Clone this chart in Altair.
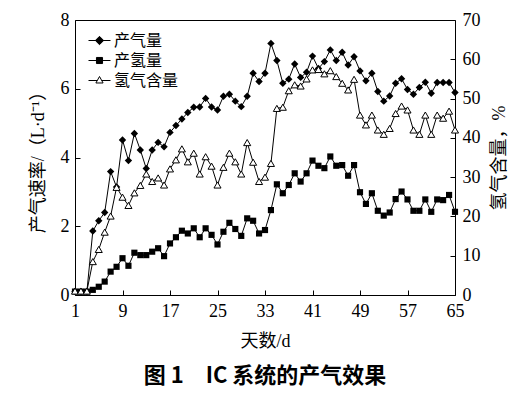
import altair as alt
import pandas as pd

# ---------------- data ----------------
days = list(range(1, 66))
gas_rate = [0.10, 0.10, 0.10, 1.86, 2.16, 2.40, 3.59, 3.14, 4.51, 3.91,
            4.70, 4.22, 3.68, 4.22, 4.44, 4.31, 4.73, 4.93, 5.12, 5.31,
            5.46, 5.47, 5.72, 5.47, 5.38, 5.78, 5.84, 5.64, 5.48, 5.78,
            6.45, 6.21, 6.45, 7.32, 6.82, 6.16, 6.28, 6.72, 6.33, 6.48,
            6.95, 6.59, 6.79, 7.13, 6.82, 7.06, 6.69, 6.93, 6.52, 6.23,
            6.45, 5.92, 5.64, 5.79, 6.16, 6.29, 5.98, 5.84, 6.04, 6.19,
            5.87, 6.18, 6.18, 6.18, 5.89]
h2_rate = [0.10, 0.10, 0.10, 0.15, 0.24, 0.39, 0.68, 0.82, 1.07, 0.85,
           1.23, 1.16, 1.16, 1.26, 1.36, 1.13, 1.50, 1.68, 1.87, 1.79,
           1.94, 1.68, 1.94, 1.75, 1.47, 1.84, 2.10, 1.92, 1.72, 2.23,
           2.16, 1.79, 1.89, 2.47, 3.22, 2.96, 3.20, 3.54, 3.30, 3.54,
           3.91, 3.76, 3.69, 4.03, 3.76, 3.78, 3.47, 3.78, 2.99, 2.65,
           2.96, 2.45, 2.31, 2.40, 2.79, 3.01, 2.78, 2.45, 2.45, 2.78,
           2.42, 2.78, 2.76, 2.91, 2.42]
h2_content = [1.0, 1.0, 1.0, 8.5, 11.6, 16.0, 20.1, 27.4, 24.9, 22.8,
              26.0, 27.9, 30.8, 28.9, 29.8, 28.0, 32.1, 34.4, 37.2, 33.9,
              36.1, 30.8, 35.2, 32.8, 28.0, 32.5, 36.1, 33.9, 30.8, 38.8,
              33.8, 28.9, 30.0, 33.5, 47.5, 47.8, 52.0, 53.5, 53.2, 55.0,
              57.3, 57.4, 56.3, 57.1, 55.6, 53.9, 52.2, 54.9, 45.8, 43.3,
              45.8, 42.0, 40.9, 42.4, 46.2, 48.1, 47.1, 42.0, 40.9, 45.8,
              40.9, 45.8, 45.0, 46.8, 42.0]
series_names = ["产气量", "产氢量", "氢气含量"]
x_ticks = [1, 9, 17, 25, 33, 41, 49, 57, 65]
left_ticks = [0, 2, 4, 6, 8]
right_ticks = [0, 10, 20, 30, 40, 50, 60, 70]

df_gas = pd.DataFrame({"day": days, "value": gas_rate, "series": series_names[0]})
df_h2 = pd.DataFrame({"day": days, "value": h2_rate, "series": series_names[1]})
df_left = pd.concat([df_gas, df_h2], ignore_index=True)
df_pct = pd.DataFrame({"day": days, "pct": h2_content, "series": series_names[2]})

# ---------------- styles ----------------
NUM_FONT = "Liberation Serif"
CJK_FONT = "Noto Sans CJK SC"
MIX_FONT = "Liberation Serif, Noto Sans CJK SC"

# legend symbols: a short line with the series marker on it
legend_paths = [
    "M-1.375,0L1.375,0M0,-0.52L0.52,0L0,0.52L-0.52,0Z",
    "M-1.375,0L1.375,0M-0.38,-0.38L0.38,-0.38L0.38,0.38L-0.38,0.38Z",
    "M-1.375,0L-0.28,0M0.28,0L1.375,0M0,-0.5L0.45,0.31L-0.45,0.31Z",
]

axis_common = dict(offset=-5, tickSize=5, domain=False, grid=False,
                   labelFont=NUM_FONT, labelFontSize=18, labelColor="black",
                   titleFont=MIX_FONT, titleFontSize=18, titleFontWeight="normal",
                   titleColor="black", tickColor="black", tickWidth=1,
                   labelOverlap=False)

x_enc = alt.X("day:Q", scale=alt.Scale(domain=[1, 65], nice=False, zero=False),
              axis=alt.Axis(values=x_ticks, title="天数/d", labelPadding=7,
                            titlePadding=12, labelFlush=False, **axis_common))
yl_enc = alt.Y("value:Q", scale=alt.Scale(domain=[0, 8], nice=False),
               axis=alt.Axis(values=left_ticks, title="产气速率/（L·d⁻¹）",
                             orient="left", labelPadding=6, titlePadding=13,
                             **axis_common))
yr_enc = alt.Y("pct:Q", scale=alt.Scale(domain=[0, 70], nice=False),
               axis=alt.Axis(values=right_ticks, title="氢气含量，%",
                             orient="right", labelPadding=7, titlePadding=10,
                             titleAngle=270, titleBaseline="top",
                             **axis_common))

legend = alt.Legend(title=None, orient="none", legendX=16, legendY=12, padding=0,
                    symbolSize=256, symbolStrokeWidth=1, symbolStrokeColor="black",
                    symbolOpacity=1, labelFont=MIX_FONT, labelFontSize=16,
                    labelColor="black", labelOffset=6, rowPadding=3)
shape_enc = alt.Shape("series:N", scale=alt.Scale(domain=series_names, range=legend_paths),
                      legend=legend)
fill_enc = alt.Fill("series:N", scale=alt.Scale(domain=series_names,
                                               range=["black", "black", "white"]),
                    legend=legend)
stroke_enc = alt.Stroke("series:N", scale=alt.Scale(domain=series_names,
                                                   range=["black", "black", "black"]),
                        legend=legend)

# ---------------- left axis layers ----------------
line_left = alt.Chart(df_left).mark_line(color="black", strokeWidth=1).encode(
    x=x_enc, y=yl_enc, detail="series:N")
pts_gas = alt.Chart(df_gas).mark_point(shape="diamond", filled=True, color="black",
                                       size=55, opacity=1).encode(x=x_enc, y=yl_enc)
pts_h2 = alt.Chart(df_h2).mark_point(shape="square", filled=True, color="black",
                                     size=38, opacity=1).encode(x=x_enc, y=yl_enc)
# legend carrier: no rows drawn, the legend comes from the explicit scale domain
legend_carrier = alt.Chart(df_left).transform_filter("datum.day < 0").mark_point(
    filled=True, strokeWidth=1, opacity=1).encode(
    x=x_enc, y=yl_enc, shape=shape_enc, fill=fill_enc, stroke=stroke_enc)
left = alt.layer(line_left, pts_gas, pts_h2, legend_carrier)

# ---------------- right axis layers ----------------
line_right = alt.Chart(df_pct).mark_line(color="black", strokeWidth=1).encode(
    x=x_enc, y=yr_enc)
pts_pct = alt.Chart(df_pct).mark_point(shape="triangle-up", filled=True, fill="white",
                                       stroke="black", strokeWidth=1, size=50,
                                       opacity=1).encode(x=x_enc, y=yr_enc)
right = alt.layer(line_right, pts_pct)

chart = alt.layer(left, right).resolve_scale(y="independent").properties(
    width=380, height=275,
    padding={"left": 21, "top": 3, "right": 5, "bottom": 5},
    background="white",
    title=alt.Title("图 1　IC 系统的产气效果", orient="bottom", anchor="middle",
                    font=CJK_FONT, fontSize=22, fontWeight="bold", offset=16,
                    color="black"),
).configure_view(stroke="black", strokeWidth=1)

chart.save("out.html", embed_options={"renderer": "svg", "actions": False})
